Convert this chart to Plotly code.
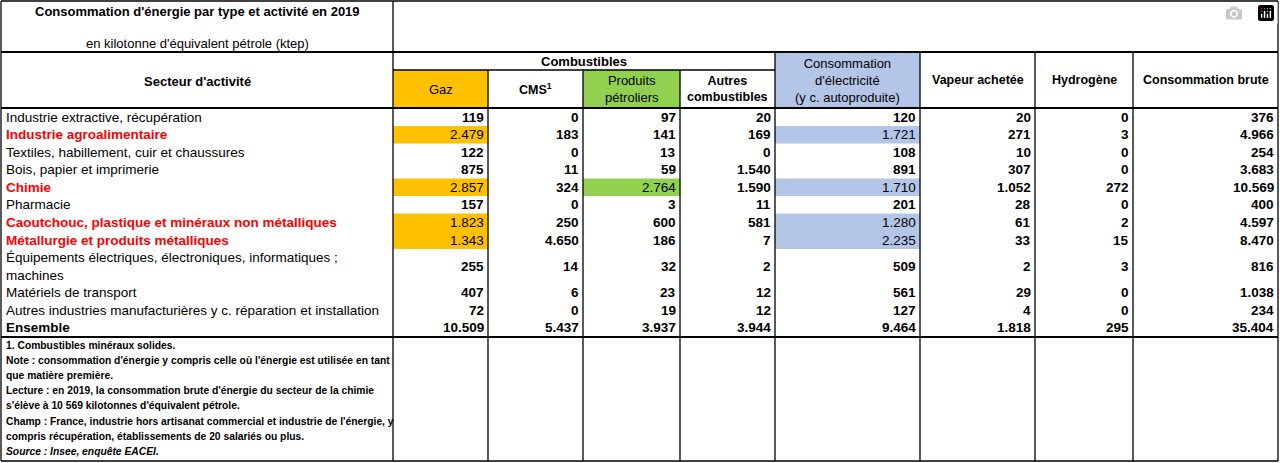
import plotly.graph_objects as go

sectors = ["Industrie extractive, récupération", "Industrie agroalimentaire",
           "Textiles, habillement, cuir et chaussures", "Bois, papier et imprimerie",
           "Chimie", "Pharmacie", "Caoutchouc, plastique et minéraux non métalliques",
           "Métallurgie et produits métalliques",
           "Équipements électriques, électroniques, informatiques ;<br>machines",
           "Matériels de transport",
           "Autres industries manufacturières y c. réparation et installation", "Ensemble"]
gaz = ["119", "2.479", "122", "875", "2.857", "157", "1.823", "1.343", "255", "407", "72", "10.509"]
cms = ["0", "183", "0", "11", "324", "0", "250", "4.650", "14", "6", "0", "5.437"]
petrole = ["97", "141", "13", "59", "2.764", "3", "600", "186", "32", "23", "19", "3.937"]
autres = ["20", "169", "0", "1.540", "1.590", "11", "581", "7", "2", "12", "12", "3.944"]
electricite = ["120", "1.721", "108", "891", "1.710", "201", "1.280", "2.235", "509", "561", "127", "9.464"]
vapeur = ["20", "271", "10", "307", "1.052", "28", "61", "33", "2", "29", "4", "1.818"]
hydrogene = ["0", "3", "0", "0", "272", "0", "2", "15", "3", "0", "0", "295"]
brute = ["376", "4.966", "254", "3.683", "10.569", "400", "4.597", "8.470", "816", "1.038", "234", "35.404"]
red_rows = [1, 4, 6, 7]
col_headers = ["Gaz", "CMS<sup>1</sup>", "Produits<br>pétroliers", "Autres<br>combustibles",
               "Consommation<br>d'électricité<br>(y c. autoproduite)", "Vapeur achetée",
               "Hydrogène", "Consommation brute"]
notes = ["1. Combustibles minéraux solides.",
         "Note : consommation d'énergie y compris celle où l'énergie est utilisée en tant",
         "que matière première.",
         "Lecture : en 2019, la consommation brute d'énergie du secteur de la chimie",
         "s'élève à 10 569 kilotonnes d'équivalent pétrole.",
         "Champ : France, industrie hors artisanat commercial et industrie de l'énergie, y",
         "compris récupération, établissements de 20 salariés ou plus.",
         "<i>Source : Insee, enquête EACEI.</i>"]

columns = [gaz, cms, petrole, autres, electricite, vapeur, hydrogene, brute]
xe = [1, 393, 488, 583, 680, 775, 920, 1035, 1133, 1278]
ye = [108.5, 126, 143.5, 161, 178.5, 196, 213.5, 231, 249, 283.5, 301.5, 319, 336.5]
ORANGE, GREEN, BLUE = "#FFC000", "#92D050", "#B4C6E7"
FONT = "Liberation Sans Narrow, Liberation Sans, Arial"

shapes, ann = [], []
def rect(x0, y0, x1, y1, fill):
    shapes.append(dict(type="rect", x0=x0, x1=x1, y0=y0, y1=y1, fillcolor=fill, line=dict(width=0), layer="below"))
def line(x0, y0, x1, y1, w=1.3):
    shapes.append(dict(type="line", x0=x0, x1=x1, y0=y0, y1=y1, line=dict(color="black", width=w)))
def text(x, y, s, anchor="center", size=13, color="black", bold=False):
    if bold:
        s = "<b>" + s + "</b>"
    ann.append(dict(x=x, y=y, text=s, xanchor=anchor, yanchor="middle", showarrow=False,
                    font=dict(family=FONT, size=size, color=color), align=anchor if anchor != "center" else "center"))

rect(xe[1], 70, xe[2], 108, ORANGE)
rect(xe[3], 70, xe[4], 108, GREEN)
rect(xe[5], 52, xe[6], 108, BLUE)
for r in red_rows:
    rect(xe[1], ye[r], xe[2], ye[r + 1], ORANGE)
    rect(xe[5], ye[r], xe[6], ye[r + 1], BLUE)
rect(xe[3], ye[4], xe[4], ye[5], GREEN)

line(1, 1, 1278, 1); line(1, 461, 1278, 461)
line(1, 1, 1, 461); line(1278, 1, 1278, 461)
line(1, 52, 1278, 52, 2.2); line(1, 108, 1278, 108, 2.2); line(1, 337, 1278, 337, 2.2)
line(xe[1], 70, xe[5], 70)
line(xe[1], 1, xe[1], 461)
for i in range(2, 9):
    line(xe[i], 70 if i < 5 else 52, xe[i], 461)

text(197, 11, "Consommation d'énergie par type et activité en 2019", bold=True)
text(197, 43, "en kilotonne d'équivalent pétrole (ktep)")
text(197, 81, "Secteur d'activité", bold=True)
text((xe[1] + xe[5]) / 2, 61, "Combustibles", bold=True)
for i, h in enumerate(col_headers):
    cx = (xe[i + 1] + xe[i + 2]) / 2
    cy = 89 if i < 4 else 80
    bold = i not in (0, 2, 4)
    text(cx, cy, h, bold=bold, size=13 if not bold else 12.5)

for r, s in enumerate(sectors):
    cy = (ye[r] + ye[r + 1]) / 2
    red = r in red_rows
    text(4, cy, s, anchor="left", color="red" if red else "black", bold=red or r == 11, size=13.5)
    for c, col in enumerate(columns):
        hl = (c in (0, 4) and red) or (c == 2 and r == 4)
        text(xe[c + 2] - 2, cy, col[r], anchor="right", bold=not hl, size=13.5)

for k, n in enumerate(notes):
    text(4, 345 + k * 15.2, n, anchor="left", size=10.3, bold=True)

fig = go.Figure()
fig.update_layout(width=1280, height=463, margin=dict(l=0, r=0, t=0, b=0),
                  paper_bgcolor="white", plot_bgcolor="white", showlegend=False,
                  shapes=shapes, annotations=ann,
                  xaxis=dict(range=[0, 1280], visible=False, fixedrange=True),
                  yaxis=dict(range=[463, 0], visible=False, fixedrange=True))
fig.write_html("out.html", post_script="document.body.style.margin='0';document.body.style.overflow='hidden';")
